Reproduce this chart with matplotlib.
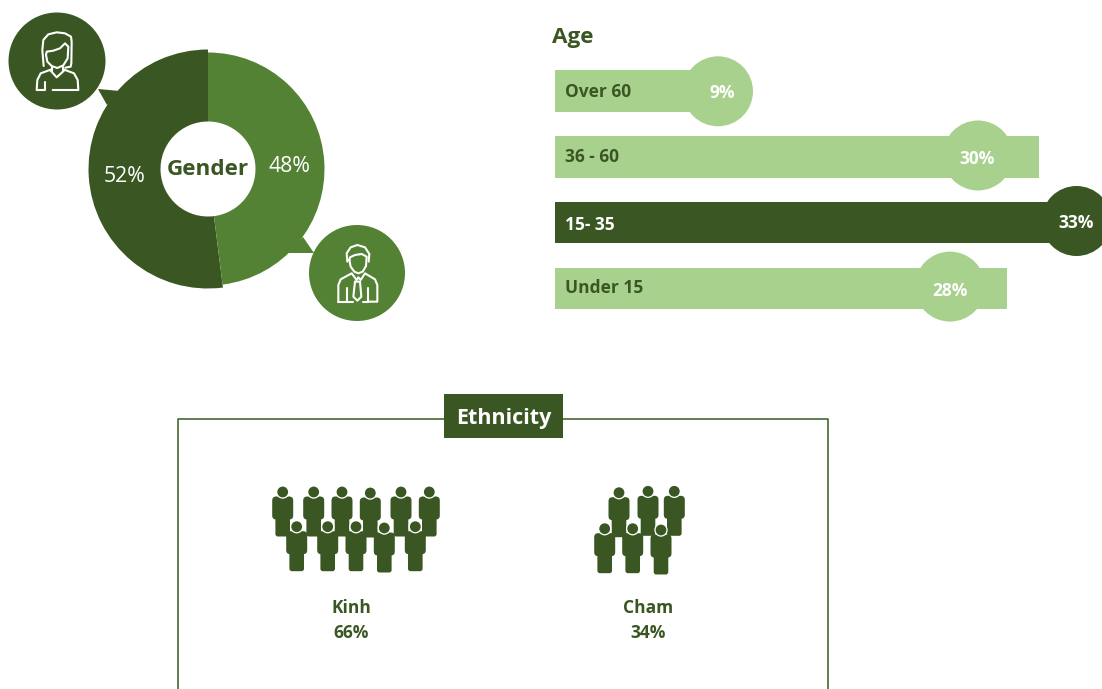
import numpy as np
import matplotlib
matplotlib.use('Agg')
import matplotlib.pyplot as plt
from matplotlib.patches import Circle, Polygon, Rectangle, FancyBboxPatch

W, H = 1102, 689
dark = '#3A5723'
mid = '#548235'
light = '#A9D18E'
plt.rcParams['font.family'] = ['Open Sans', 'DejaVu Sans']

# gender
gender_labels = ['52%', '48%']
gender_values = [52, 48]

# age
age_labels = ['Over 60', '36 - 60', '15- 35', 'Under 15']
age_values = [9, 30, 33, 28]
age_text = ['9%', '30%', '33%', '28%']

# ethnicity
ethnic_labels = ['Kinh', 'Cham']
ethnic_values = [66, 34]

fig = plt.figure(figsize=(W / 100, H / 100), dpi=100, facecolor='white')
ax = fig.add_axes([0, 0, 1, 1])
ax.set_xlim(0, W)
ax.set_ylim(H, 0)
ax.axis('off')


def stroke(points, lw=1.5):
    # icon outlines are written in 1/3 px units
    pts = np.array(points, dtype=float) / 3
    ax.plot(pts[:, 0], pts[:, 1], color='white', lw=lw,
            solid_capstyle='round', solid_joinstyle='round', zorder=6)


# ---- donut
cx, cy = 208, 169
R = 119.5
dax = fig.add_axes([(cx - R) / W, 1 - (cy + R) / H, 2 * R / W, 2 * R / H])
wedges, _ = dax.pie(gender_values, startangle=90, counterclock=True, radius=1,
                    colors=[dark, mid], wedgeprops=dict(width=1 - 47.5 / R))
wedges[1].set_radius(116.5 / R)
wedges[1].set_width((116.5 - 47.5) / R)
dax.set_xlim(-1, 1)
dax.set_ylim(-1, 1)
dax.set_zorder(0)
ax.set_zorder(1)
ax.patch.set_alpha(0)

ax.text(cx - 0.5, 169.5, 'Gender', color=dark, fontsize=16.2, fontweight='bold', ha='center', va='center')
ax.text(124.5, 177, gender_labels[0], color='white', fontsize=15.3, ha='center', va='center')
ax.text(289.5, 167, gender_labels[1], color='white', fontsize=15.3, ha='center', va='center')

# callout tails and badges
ax.add_patch(Polygon([(98, 89), (120, 91), (107, 105)], color=dark, lw=0, zorder=2))
ax.add_patch(Polygon([(303, 237), (314, 253), (286, 253)], color=mid, lw=0, zorder=2))
ax.add_patch(Circle((57, 61), 48.5, color=dark, lw=0, zorder=3))
ax.add_patch(Circle((357, 273), 48, color=mid, lw=0, zorder=3))

# woman
stroke([(131, 198), (127, 150), (130, 120), (145, 103), (170, 97), (195, 100), (213, 110), (215, 125),
        (214, 190), (212, 200), (196, 203)])
stroke([(138, 165), (142, 185), (155, 198), (172, 204), (190, 196), (203, 175), (205, 140), (195, 130),
        (180, 145), (160, 152), (140, 155), (138, 165)])
stroke([(155, 200), (155, 212)])
stroke([(190, 200), (190, 212)])
stroke([(110, 270), (112, 240), (122, 220), (155, 208)])
stroke([(190, 208), (222, 220), (233, 240), (235, 270), (158, 270)])
stroke([(110, 270), (135, 270), (135, 245)])
stroke([(152, 212), (170, 232), (192, 212)])

# man
stroke([(1042, 785), (1040, 760), (1052, 742), (1072, 735), (1095, 742), (1108, 762), (1106, 785)])
stroke([(1048, 780), (1052, 800), (1063, 815), (1075, 820), (1088, 815), (1098, 798), (1100, 770),
        (1085, 762), (1065, 765), (1050, 772), (1048, 780)])
stroke([(1015, 905), (1015, 855), (1022, 838), (1055, 820), (1070, 840), (1075, 832), (1082, 840),
        (1095, 820), (1125, 838), (1132, 855), (1132, 905), (1105, 905)])
stroke([(1015, 905), (1040, 905), (1040, 865)])
stroke([(1103, 865), (1103, 905)])
stroke([(1065, 845), (1060, 890), (1072, 902), (1084, 890), (1080, 845), (1065, 845)])
stroke([(1040, 905), (1058, 905)])
stroke([(1088, 905), (1103, 905)])

# ---- age bars
ax.text(552, 37.5, 'Age', color=dark, fontsize=16.2, fontweight='bold', ha='left', va='center')
bar_x0 = 554.5
px_per_pct = 16.15
bar_y = [91, 157, 222.5, 288.5]
bubble_y = [91.3, 155.5, 221, 286.6]
bubble_x = [718, 978, 1076.5, 950]
label_y = [92, 157, 224.5, 288]
value_pos = [(722, 93), (977, 159), (1076, 223.5), (950, 291)]
colors = [light, light, dark, light]
ax.barh(bar_y, np.array(age_values) * px_per_pct, height=41.5, left=bar_x0, color=colors, zorder=2)
for i in range(4):
    ax.add_patch(Circle((bubble_x[i], bubble_y[i]), 35, color=colors[i], lw=0, zorder=3))
    txt_color = 'white' if colors[i] == dark else dark
    ax.text(565, label_y[i], age_labels[i], color=txt_color, fontsize=12.5, fontweight='bold',
            ha='left', va='center', zorder=5)
    ax.text(value_pos[i][0], value_pos[i][1], age_text[i], color='white', fontsize=12.5,
            fontweight='bold', ha='center', va='center', zorder=5)

# ---- ethnicity frame
ax.plot([178, 178, 828, 828], [H + 5, 419, 419, H + 5], color='#3F6026', lw=1.15, zorder=1)
ax.add_patch(Rectangle((444, 394), 119, 44, color=dark, lw=0, zorder=2))
ax.text(503.5, 418.5, 'Ethnicity', color='white', fontsize=15.5, fontweight='bold',
        ha='center', va='center', zorder=3)


def person(x, y, z):
    # head centre at x, y; the white ring separates head from shoulders
    ax.add_patch(FancyBboxPatch((x - 10.5, y + 4.5), 21, 23, boxstyle='round,pad=0,rounding_size=4',
                                fc=dark, ec='none', zorder=z))
    ax.add_patch(FancyBboxPatch((x - 7.3, y + 18), 14.6, 26.5, boxstyle='round,pad=0,rounding_size=2.5',
                                fc=dark, ec='none', zorder=z))
    ax.add_patch(Circle((x, y), 6.7, fc='white', ec='none', zorder=z + 0.1))
    ax.add_patch(Circle((x, y), 5.4, fc=dark, ec='none', zorder=z + 0.2))


kinh_xy = [(282.7, 492), (313.7, 492), (342, 492), (370.3, 493), (401, 492), (429.3, 492),
           (296.7, 526.7), (327.7, 526.7), (356, 526.7), (384.3, 528), (415.3, 526.7)]
cham_xy = [(619, 492.7), (648, 491.3), (674.3, 491.3),
           (604.7, 528.7), (632.7, 528.7), (661, 530)]
for group in (kinh_xy, cham_xy):
    for n, (px, py) in enumerate(group):
        person(px, py, 3 + n * 0.5)

label_x = [351, 648]
for i in range(2):
    ax.text(label_x[i], 608, ethnic_labels[i], color=dark, fontsize=12.5, fontweight='bold',
            ha='center', va='center')
    ax.text(label_x[i], 633, str(ethnic_values[i]) + '%', color=dark, fontsize=12.5,
            fontweight='bold', ha='center', va='center')

plt.savefig('out.png', dpi=100)
